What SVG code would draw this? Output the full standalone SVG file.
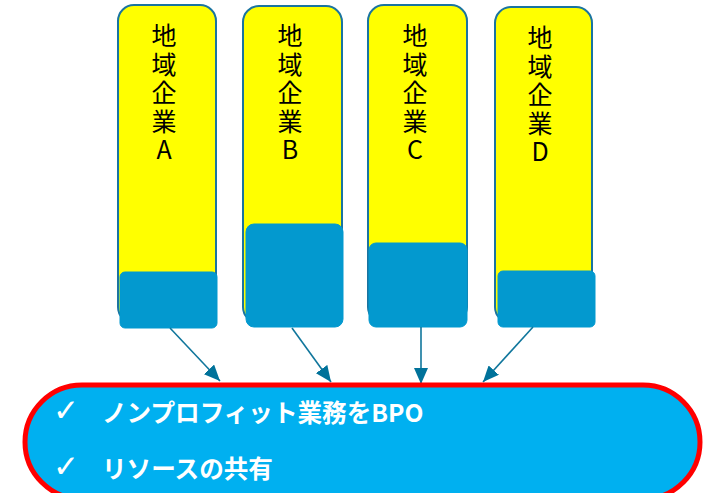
<svg xmlns="http://www.w3.org/2000/svg" width="705" height="493" viewBox="0 0 705 493">
<style>
.y{fill:#FFFF00;stroke:#1A74A0;stroke-width:2}
.b{fill:#0399CF;stroke:#0399CF;stroke-width:1}
.t{font-family:"Noto Sans CJK JP","Noto Sans",sans-serif;font-size:25px;fill:#000;text-anchor:middle}
.c{stroke:#10769C;stroke-width:1.6;fill:none;marker-end:url(#ah)}
.w{font-family:"Noto Sans CJK JP","Noto Sans",sans-serif;font-size:24.6px;font-weight:bold;fill:#fff}
.k{font-family:"DejaVu Sans",sans-serif;font-size:31px;fill:#fff}
</style>
<defs>
<marker id="ah" viewBox="0 0 16 14" refX="16" refY="7" markerWidth="16" markerHeight="14" markerUnits="userSpaceOnUse" orient="auto">
<path d="M0,0 L16,7 L0,14 z" fill="#00729A"/>
</marker>
</defs>
<g id="nodeA">
<rect class="y" x="118" y="5" width="98" height="318" rx="16"/>
<rect class="b" x="120" y="272" width="97" height="56" rx="5"/>
<text class="t" x="164" y="45">地</text><text class="t" x="164" y="74">域</text><text class="t" x="164" y="102">企</text><text class="t" x="164" y="131">業</text><text class="t" x="164" y="159">A</text>
</g>
<g id="nodeB">
<rect class="y" x="243" y="6" width="99" height="317" rx="16"/>
<rect class="b" x="246" y="224" width="97" height="103" rx="8"/>
<text class="t" x="290" y="45">地</text><text class="t" x="290" y="74">域</text><text class="t" x="290" y="102">企</text><text class="t" x="290" y="131">業</text><text class="t" x="290" y="159">B</text>
</g>
<g id="nodeC">
<rect class="y" x="368" y="5" width="99" height="318" rx="16"/>
<rect class="b" x="369" y="243" width="98" height="84" rx="7"/>
<text class="t" x="415" y="45">地</text><text class="t" x="415" y="74">域</text><text class="t" x="415" y="102">企</text><text class="t" x="415" y="131">業</text><text class="t" x="415" y="159">C</text>
</g>
<g id="nodeD">
<rect class="y" x="495" y="7" width="97" height="316" rx="16"/>
<rect class="b" x="498" y="271" width="97" height="56" rx="5"/>
<text class="t" x="540" y="47">地</text><text class="t" x="540" y="76">域</text><text class="t" x="540" y="104">企</text><text class="t" x="540" y="133">業</text><text class="t" x="540" y="161">D</text>
</g>
<g id="connectors">
<line class="c" x1="170" y1="328" x2="220" y2="381"/>
<line class="c" x1="292" y1="328" x2="331" y2="382"/>
<line class="c" x1="421" y1="327" x2="421" y2="384"/>
<line class="c" x1="533" y1="327" x2="483" y2="382"/>
</g>
<g id="shared">
<rect x="25" y="385" width="675" height="114" rx="57" fill="#00B0F0" stroke="#FF0000" stroke-width="5"/>
<text class="k" x="53" y="421">✓</text>
<text class="w" x="102" y="422">ノンプロフィット業務をBPO</text>
<text class="k" x="53" y="477">✓</text>
<text class="w" x="102" y="478">リソースの共有</text>
</g>
</svg>
